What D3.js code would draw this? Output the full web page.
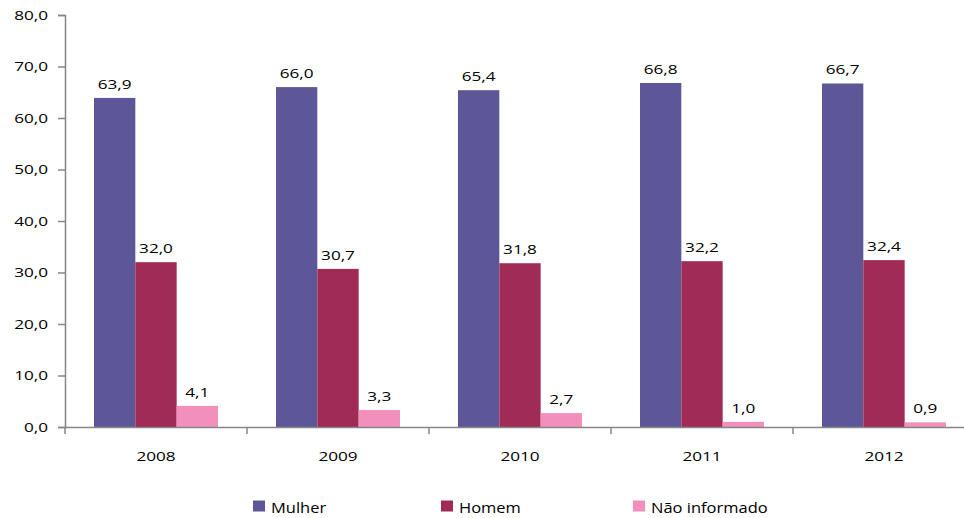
<!DOCTYPE html>
<html>
<head>
<meta charset="utf-8">
<script src="https://cdn.jsdelivr.net/npm/d3@7"></script>
<style>
  body { margin: 0; background: #fff; }
  svg text { font-family: "Open Sans", sans-serif; fill: #000; }
</style>
</head>
<body>
<div id="chart"></div>
<script>
// data
const years = ["2008", "2009", "2010", "2011", "2012"];
const seriesNames = ["Mulher", "Homem", "Não informado"];
const mulher = [63.9, 66.0, 65.4, 66.8, 66.7];
const homem = [32.0, 30.7, 31.8, 32.2, 32.4];
const naoInformado = [4.1, 3.3, 2.7, 1.0, 0.9];
const yTicks = [0, 10, 20, 30, 40, 50, 60, 70, 80];
const colors = ["#5e5797", "#a02b56", "#f28fba"];

const allSeries = [mulher, homem, naoInformado];
const fmt = v => v.toFixed(1).replace(".", ",");
const stretch = 1.27; // the text in the source is drawn wide

const width = 964, height = 518;
const svg = d3.select("#chart").append("svg")
    .attr("width", width)
    .attr("height", height);

// scales
const x0 = d3.scaleBand().domain(years).range([65, 975]).padding(0);
const groupW = 124;
const x1 = d3.scaleBand().domain(seriesNames).range([0, groupW]).padding(0);
const y = d3.scaleLinear().domain([0, 80]).range([427, 15]);

// bars
const groups = svg.selectAll(".grp")
    .data(years)
    .enter().append("g")
    .attr("class", "grp")
    .attr("transform", d => "translate(" + (x0(d) + (x0.bandwidth() - groupW) / 2) + ",0)");

groups.selectAll("rect")
    .data((d, i) => seriesNames.map((s, j) => ({s: s, v: allSeries[j][i], c: colors[j]})))
    .enter().append("rect")
    .attr("x", d => x1(d.s))
    .attr("y", d => y(d.v))
    .attr("width", x1.bandwidth())
    .attr("height", d => y(0) - y(d.v))
    .attr("fill", d => d.c);

groups.selectAll("text")
    .data((d, i) => seriesNames.map((s, j) => ({s: s, v: allSeries[j][i]})))
    .enter().append("text")
    .attr("transform", d => "translate(" + (x1(d.s) + x1.bandwidth() / 2) + "," + (y(d.v) - 9) + ") scale(" + stretch + ",1)")
    .attr("text-anchor", "middle")
    .style("font-size", "13.5px")
    .text(d => fmt(d.v));

// y axis
const yAxis = d3.axisLeft(y).tickValues(yTicks).tickSize(7).tickFormat(fmt);
const gy = svg.append("g").attr("transform", "translate(65,0)").call(yAxis);
gy.select(".domain").attr("stroke", "#868686").attr("stroke-width", 1.5);
gy.selectAll(".tick line").attr("stroke", "#868686").attr("stroke-width", 1.5);
gy.selectAll(".tick text")
    .attr("x", 0)
    .attr("transform", "translate(-17,0) scale(" + stretch + ",1)")
    .style("font-size", "13.5px")
    .style("font-family", "Open Sans");

// x axis
const xAxis = d3.axisBottom(x0).tickSize(0).tickSizeOuter(0);
const gx = svg.append("g").attr("transform", "translate(0,427)").call(xAxis);
gx.select(".domain").attr("stroke", "#868686").attr("stroke-width", 1.5);
gx.selectAll(".tick text")
    .attr("y", 0)
    .attr("transform", "translate(0,24) scale(" + stretch + ",1)")
    .style("font-size", "13.5px")
    .style("font-family", "Open Sans");

// boundary ticks between categories
svg.selectAll(".xtick")
    .data(years.concat(["end"]))
    .enter().append("line")
    .attr("class", "xtick")
    .attr("x1", (d, i) => 65 + i * x0.bandwidth())
    .attr("x2", (d, i) => 65 + i * x0.bandwidth())
    .attr("y1", 427)
    .attr("y2", 434)
    .attr("stroke", "#868686")
    .attr("stroke-width", 1.5);

// legend
const legendX = [253, 441, 633];
const legend = svg.selectAll(".leg")
    .data(seriesNames)
    .enter().append("g")
    .attr("class", "leg")
    .attr("transform", (d, i) => "translate(" + legendX[i] + ",500)");
legend.append("rect")
    .attr("y", 0.5)
    .attr("width", 12).attr("height", 11)
    .attr("fill", (d, i) => colors[i]);
legend.append("text")
    .attr("transform", "translate(18,12.5) scale(1.1,1)")
    .style("font-size", "15px")
    .text(d => d);
</script>
</body>
</html>
